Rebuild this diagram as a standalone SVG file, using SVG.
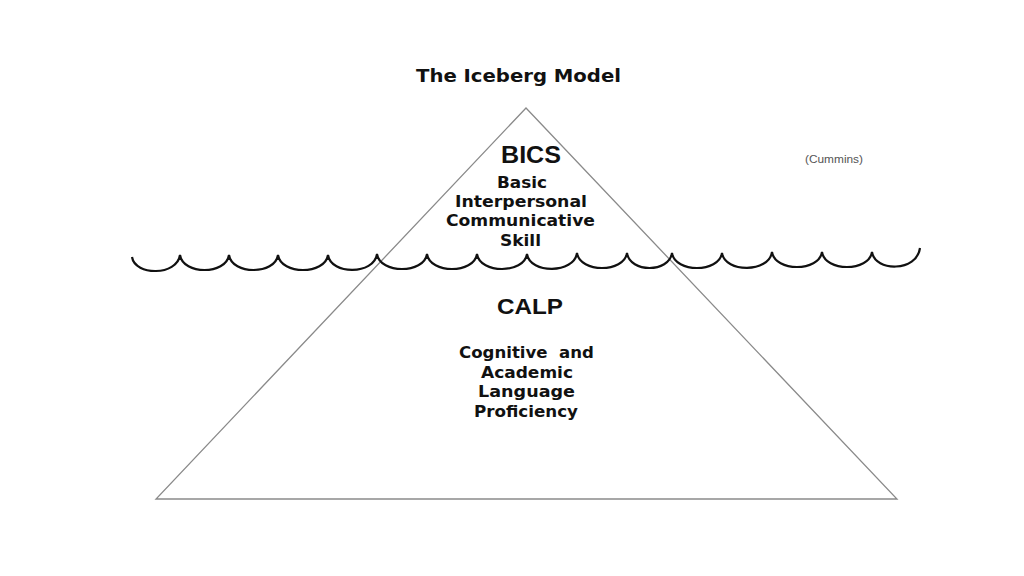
<svg xmlns="http://www.w3.org/2000/svg" width="1024" height="576" viewBox="0 0 1024 576">
<style>
.v{font-family:"DejaVu Sans",Verdana,sans-serif;font-weight:bold;fill:#111;text-anchor:middle}
.a{font-family:"Liberation Sans",Arial,sans-serif;font-weight:bold;fill:#111;text-anchor:middle}
</style>
<rect width="1024" height="576" fill="#fff"/>
<g id="iceberg">
<polygon points="526,108 156,499 897,499" fill="none" stroke="#8a8a8a" stroke-width="1.3"/>
</g>
<g id="title"><text class="v" x="518.5" y="82" font-size="18" textLength="205" lengthAdjust="spacingAndGlyphs">The Iceberg Model</text></g>
<g id="bics">
<text class="a" x="531" y="163" font-size="23" textLength="60" lengthAdjust="spacingAndGlyphs">BICS</text>
<text class="v" x="522" y="188" font-size="16" textLength="50" lengthAdjust="spacingAndGlyphs">Basic</text>
<text class="v" x="521" y="207" font-size="16" textLength="132" lengthAdjust="spacingAndGlyphs">Interpersonal</text>
<text class="v" x="520.5" y="226" font-size="16" textLength="149" lengthAdjust="spacingAndGlyphs">Communicative</text>
<text class="v" x="520.5" y="246" font-size="16" textLength="41" lengthAdjust="spacingAndGlyphs">Skill</text>
</g>
<g id="calp">
<text class="a" x="530" y="314" font-size="22" textLength="66" lengthAdjust="spacingAndGlyphs">CALP</text>
<text class="v" x="526.5" y="358" font-size="16.5" xml:space="preserve" textLength="135" lengthAdjust="spacingAndGlyphs">Cognitive  and</text>
<text class="v" x="527" y="378" font-size="16.5" textLength="92" lengthAdjust="spacingAndGlyphs">Academic</text>
<text class="v" x="526.5" y="397" font-size="16.5" textLength="97" lengthAdjust="spacingAndGlyphs">Language</text>
<text class="v" x="526" y="417" font-size="16.5" textLength="104" lengthAdjust="spacingAndGlyphs">Proficiency</text>
</g>
<g id="cummins"><text x="834" y="163" font-family="Liberation Sans,Arial,sans-serif" font-size="10" fill="#555" text-anchor="middle" textLength="58" lengthAdjust="spacingAndGlyphs">(Cummins)</text></g>
<g id="waves">
<path fill="none" stroke="#111" stroke-width="2.2" d="M132 257 C135 276 177 276 180 255 C183 275 226 275 229 255 C232 275 275 275 278 255 C281 275 325 275 328 255 C331 275 374 275 377 254 C380 274 424 274 427 254 C430 274 474 274 477 254 C480 274 524 274 527 254 C530 274 574 274 577 253 C580 273 624 273 627 253 C630 273 669 273 672 253 C675 273 719 273 722 253 C725 273 769 273 772 252 C775 272 819 272 822 252 C825 272 869 272 872 252 C875 272 917 272 920 248"/>
</g>
</svg>
